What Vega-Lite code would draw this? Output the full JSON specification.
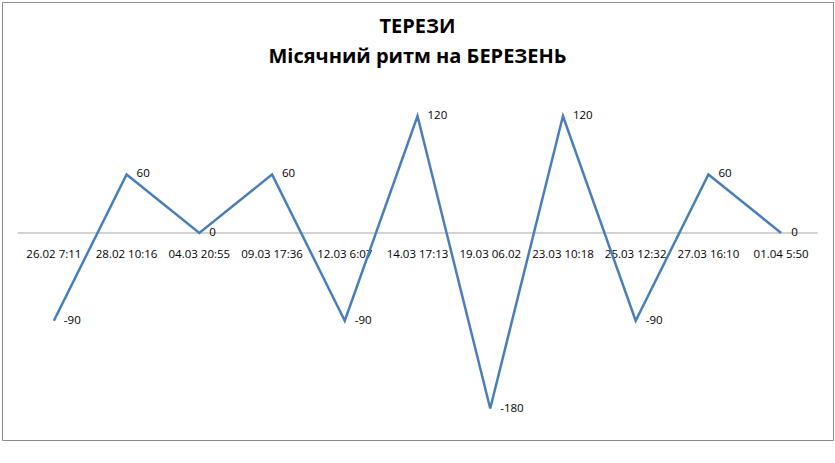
{
  "$schema": "https://vega.github.io/schema/vega-lite/v6.json",
  "autosize": "none",
  "width": 831,
  "height": 438,
  "padding": {"left": 2, "top": 2, "right": 2, "bottom": 23},
  "background": "white",
  "title": {
    "text": ["ТЕРЕЗИ", "Місячний ритм на БЕРЕЗЕНЬ"],
    "anchor": "middle",
    "offset": -65,
    "fontSize": 20,
    "lineHeight": 30,
    "font": "Open Sans",
    "fontWeight": "bold",
    "color": "black"
  },
  "datasets": {
    "rhythm": [
      {"label": "26.02 7:11", "value": -90},
      {"label": "28.02 10:16", "value": 60},
      {"label": "04.03 20:55", "value": 0},
      {"label": "09.03 17:36", "value": 60},
      {"label": "12.03 6:07", "value": -90},
      {"label": "14.03 17:13", "value": 120},
      {"label": "19.03 06.02", "value": -180},
      {"label": "23.03 10:18", "value": 120},
      {"label": "25.03 12:32", "value": -90},
      {"label": "27.03 16:10", "value": 60},
      {"label": "01.04 5:50", "value": 0}
    ],
    "baseline": [{"start": "26.02 7:11", "end": "01.04 5:50", "zero": 0}]
  },
  "encoding": {
    "x": {
      "field": "label",
      "type": "nominal",
      "scale": {
        "type": "band",
        "paddingInner": 0,
        "paddingOuter": 0.213,
        "domain": ["26.02 7:11", "28.02 10:16", "04.03 20:55", "09.03 17:36", "12.03 6:07", "14.03 17:13", "19.03 06.02", "23.03 10:18", "25.03 12:32", "27.03 16:10", "01.04 5:50"]
      },
      "axis": {
        "title": null,
        "orient": "bottom",
        "offset": -207,
        "domain": false,
        "ticks": false,
        "labelAngle": 0,
        "labelPadding": 15,
        "labelFont": "Open Sans",
        "labelFontSize": 11.5,
        "labelColor": "black"
      }
    },
    "y": {
      "field": "value",
      "type": "quantitative",
      "scale": {"domain": [-212.3, 236.9], "nice": false, "zero": false},
      "axis": null
    }
  },
  "layer": [
    {
      "data": {"name": "baseline"},
      "mark": {"type": "rule", "color": "#a6a6a6", "strokeWidth": 1},
      "encoding": {
        "x": {"field": "start", "type": "nominal", "bandPosition": 0},
        "x2": {"field": "end", "bandPosition": 1},
        "y": {"field": "zero", "type": "quantitative"}
      }
    },
    {
      "data": {"name": "rhythm"},
      "mark": {"type": "line", "color": "#4a7ebb", "strokeWidth": 2.5}
    },
    {
      "data": {"name": "rhythm"},
      "mark": {
        "type": "text",
        "align": "left",
        "baseline": "middle",
        "dx": 10,
        "font": "Open Sans",
        "fontSize": 11.5,
        "color": "black"
      },
      "encoding": {"text": {"field": "value", "type": "nominal"}}
    }
  ],
  "config": {
    "view": {"stroke": "#8c8c8c", "strokeWidth": 1}
  }
}
